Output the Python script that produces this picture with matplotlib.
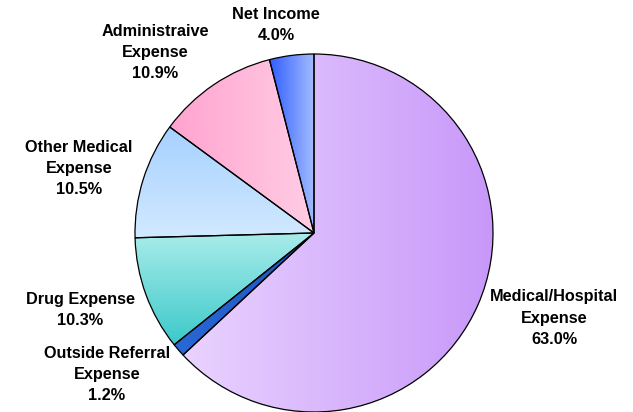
import numpy as np
import matplotlib
matplotlib.use("Agg")
import matplotlib.pyplot as plt
from matplotlib.colors import LinearSegmentedColormap

# values, clockwise from 12 o'clock
labels = ["Medical/Hospital\nExpense", "Outside Referral\nExpense", "Drug Expense",
          "Other Medical\nExpense", "Administraive\nExpense", "Net Income"]
shares = [63.0, 1.2, 10.3, 10.5, 10.9, 4.0]

# gradient colours per slice: (start, end, direction) - start is left / top
grads = [("#E9D3FF", "#C898F9", "h"),
         ("#2A68D6", "#1B55BE", "h"),
         ("#A8ECEA", "#3CC9C9", "v"),
         ("#A6D1FF", "#D2E9FF", "v"),
         ("#FFA3CF", "#FFCDE4", "h"),
         ("#2E5DFF", "#A3BBFF", "h")]

# label block centres in pixels (x, y from top)
label_px = [(554, 318), (107, 375), (80, 310), (79, 168), (155, 52), (276, 25)]

W, H = 633, 412
CX, CY, R = 314, 233, 179


def px2data(px, py):
    return (px - CX) / R, (CY - py) / R


fig = plt.figure(figsize=(W / 100, H / 100), dpi=100)
ax = fig.add_axes([0, 0, 1, 1])
ax.axis("off")

wedges, _ = ax.pie(shares, startangle=90, counterclock=False, radius=1,
                   wedgeprops=dict(edgecolor="black", linewidth=0.9))

ramp = np.linspace(0, 1, 256)
for w, (c0, c1, d) in zip(wedges, grads):
    w.set_facecolor("none")
    w.set_zorder(3)
    ext = w.get_path().get_extents()
    cmap = LinearSegmentedColormap.from_list("g", [c0, c1])
    img = np.tile(ramp, (2, 1)) if d == "h" else np.tile(ramp[:, None], (1, 2))
    im = ax.imshow(img, cmap=cmap, extent=[ext.x0, ext.x1, ext.y0, ext.y1],
                   aspect="auto", interpolation="bilinear", zorder=2, origin="upper")
    im.set_clip_path(w)

ax.set_xlim(-CX / R, (W - CX) / R)
ax.set_ylim(-(H - CY) / R, CY / R)

for lab, val, (px, py) in zip(labels, shares, label_px):
    x, y = px2data(px, py)
    ax.text(x, y, f"{lab}\n{val:.1f}%", ha="center", va="center",
            fontsize=11.7, fontweight="bold", family="Liberation Sans",
            linespacing=1.5, zorder=5)

fig.savefig("out.png", dpi=100)
